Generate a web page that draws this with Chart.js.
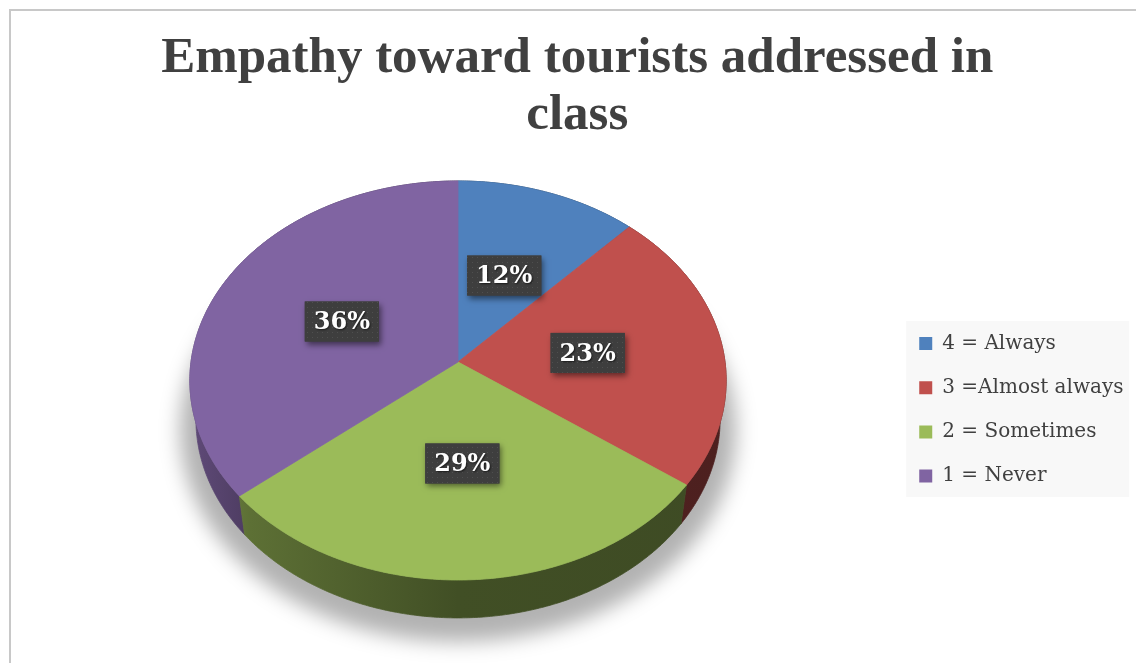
<!DOCTYPE html>
<html>
<head>
<meta charset="utf-8">
<script src="https://cdn.jsdelivr.net/npm/chart.js@4"></script>
<style>
  html, body { margin: 0; padding: 0; background: #ffffff; }
  canvas { display: block; }
</style>
</head>
<body>
<canvas id="chart" width="1136" height="663"></canvas>
<script>
// Survey answers and their shares (%)
const categories = ['4 = Always', '3 =Almost always', '2 = Sometimes', '1 = Never'];
const shares = [12, 23, 29, 36];
const sliceColors = ['#4F81BD', '#C0504D', '#9BBB59', '#8064A2'];
const chartTitle = ['Empathy toward tourists addressed in', 'class'];

// Perspective view of the pie disc: tilt, camera distance and rim thickness (in radii)
const VIEW = { tilt: 47.8 * Math.PI / 180, distance: 7.25, thickness: 0.2246, labelRadius: 0.49 };

function project(arc, theta, r, h) {
  const sa = Math.sin(VIEW.tilt), ca = Math.cos(VIEW.tilt);
  const u = r * Math.cos(theta), v = r * Math.sin(theta);
  const s = v * sa - h * ca;
  const k = arc.outerRadius * VIEW.distance / (VIEW.distance - v * ca - h * sa);
  return [arc.x + u * k, arc.y + s * k];
}

function rimPoints(arc, a0, a1, r, h) {
  const n = Math.max(2, Math.ceil(Math.abs(a1 - a0) / (Math.PI / 360)));
  const pts = [];
  for (let i = 0; i <= n; i++) pts.push(project(arc, a0 + (a1 - a0) * i / n, r, h));
  return pts;
}

function shade(hex, f) {
  const n = parseInt(hex.slice(1), 16);
  const r = Math.round(((n >> 16) & 255) * f);
  const g = Math.round(((n >> 8) & 255) * f);
  const b = Math.round((n & 255) * f);
  return `rgb(${r},${g},${b})`;
}

function makeDotPattern(ctx) {
  const c = document.createElement('canvas');
  c.width = 5; c.height = 5;
  const p = c.getContext('2d');
  p.fillStyle = '#3e3e3e';
  p.fillRect(0, 0, 5, 5);
  p.fillStyle = '#4f4f4f';
  p.fillRect(2, 2, 1, 1);
  return ctx.createPattern(c, 'repeat');
}

// Outer frame of the chart
const framePlugin = {
  id: 'frame',
  beforeDraw(chart) {
    const ctx = chart.ctx;
    ctx.save();
    ctx.strokeStyle = '#c8c8c8';
    ctx.lineWidth = 2;
    ctx.strokeRect(10, 10, chart.width + 40, chart.height + 40);

    // light panel behind the legend entries
    const boxes = chart.legend && chart.legend.legendHitBoxes;
    if (boxes && boxes.length) {
      const first = boxes[0], last = boxes[boxes.length - 1];
      const x0 = first.left - 13, y0 = first.top - 12.5;
      const y1 = last.top + last.height + 11;
      ctx.fillStyle = '#f8f8f8';
      ctx.fillRect(x0, y0, 223, y1 - y0);
    }
    ctx.restore();
  }
};

// Draws the pie slices as a tilted disc with a rim, plus the value labels
const pie3dPlugin = {
  id: 'pie3d',
  beforeDatasetsDraw(chart) {
    const ctx = chart.ctx;
    const meta = chart.getDatasetMeta(0);
    const arcs = meta.data;
    const colors = chart.data.datasets[0].backgroundColor;
    const values = chart.data.datasets[0].data;
    const total = values.reduce((a, b) => a + b, 0);
    const H = VIEW.thickness;
    const ref = arcs[0];

    ctx.save();

    // soft shadow under the disc
    ctx.save();
    ctx.filter = 'blur(10px)';
    ctx.fillStyle = 'rgba(0,0,0,0.30)';
    ctx.beginPath();
    rimPoints(ref, 0, Math.PI * 2, 1.065, -(H + 0.05)).forEach(([x, y], i) => i ? ctx.lineTo(x, y) : ctx.moveTo(x, y));
    ctx.closePath();
    ctx.fill();
    ctx.restore();

    // rim walls, back to front
    const order = arcs.map((a, i) => i).sort((i, j) =>
      Math.sin((arcs[i].startAngle + arcs[i].endAngle) / 2) - Math.sin((arcs[j].startAngle + arcs[j].endAngle) / 2));
    order.forEach(i => {
      const a = arcs[i];
      const top = rimPoints(a, a.startAngle, a.endAngle, 1, 0);
      const bottom = rimPoints(a, a.endAngle, a.startAngle, 1, -H);
      const g = ctx.createLinearGradient(a.x - a.outerRadius, 0, a.x + a.outerRadius, 0);
      g.addColorStop(0, shade(colors[i], 0.74));
      g.addColorStop(0.11, shade(colors[i], 0.60));
      g.addColorStop(0.5, shade(colors[i], 0.42));
      g.addColorStop(1, shade(colors[i], 0.40));
      ctx.beginPath();
      top.concat(bottom).forEach(([x, y], k) => k ? ctx.lineTo(x, y) : ctx.moveTo(x, y));
      ctx.closePath();
      ctx.fillStyle = g;
      ctx.strokeStyle = g;
      ctx.lineWidth = 0.8;
      ctx.fill();
      ctx.stroke();
    });

    // top faces
    arcs.forEach((a, i) => {
      ctx.beginPath();
      ctx.moveTo(a.x, a.y);
      rimPoints(a, a.startAngle, a.endAngle, 1, 0).forEach(([x, y]) => ctx.lineTo(x, y));
      ctx.closePath();
      ctx.fillStyle = colors[i];
      ctx.strokeStyle = colors[i];
      ctx.lineWidth = 0.8;
      ctx.fill();
      ctx.stroke();
    });

    // value labels
    const pattern = makeDotPattern(ctx);
    ctx.font = 'bold 24px "DejaVu Serif"';
    ctx.textAlign = 'center';
    ctx.textBaseline = 'middle';
    arcs.forEach((a, i) => {
      const mid = (a.startAngle + a.endAngle) / 2;
      const [lx, ly] = project(a, mid, VIEW.labelRadius, 0);
      const text = Math.round(values[i] / total * 100) + '%';
      const bw = ctx.measureText(text).width + 18, bh = 40;
      const bx = lx - bw / 2, by = ly - bh / 2;
      ctx.save();
      ctx.shadowColor = 'rgba(0,0,0,0.5)';
      ctx.shadowBlur = 6;
      ctx.shadowOffsetX = 2;
      ctx.shadowOffsetY = 3;
      ctx.fillStyle = '#3e3e3e';
      ctx.fillRect(bx, by, bw, bh);
      ctx.restore();
      ctx.fillStyle = pattern;
      ctx.fillRect(bx, by, bw, bh);
      ctx.save();
      ctx.shadowColor = 'rgba(0,0,0,0.6)';
      ctx.shadowBlur = 2;
      ctx.shadowOffsetX = 1;
      ctx.shadowOffsetY = 1;
      ctx.fillStyle = '#ffffff';
      ctx.fillText(text, lx, ly + 1.5);
      ctx.restore();
    });

    ctx.restore();
    return false;
  }
};

new Chart(document.getElementById('chart'), {
  type: 'pie',
  data: {
    labels: categories,
    datasets: [{
      data: shares,
      backgroundColor: sliceColors,
      borderWidth: 0,
      radius: 267
    }]
  },
  options: {
    responsive: false,
    animation: false,
    events: [],
    layout: { padding: { left: 21, right: 2.5, top: 0, bottom: 92 } },
    plugins: {
      title: {
        display: true,
        text: chartTitle,
        color: '#404040',
        font: { family: '"Liberation Serif"', size: 51, weight: 'bold', lineHeight: '57px' },
        padding: { top: 30, bottom: 9 }
      },
      legend: {
        display: true,
        position: 'right',
        fullSize: false,
        align: 'center',
        title: { display: true, text: '', font: { size: 10 }, padding: { top: 83.6, bottom: 0 } },
        labels: {
          color: '#404040',
          font: { family: '"DejaVu Serif"', size: 20 },
          boxWidth: 13,
          boxHeight: 13,
          padding: 24.2
        }
      },
      tooltip: { enabled: false }
    }
  },
  plugins: [framePlugin, pie3dPlugin]
});
</script>
</body>
</html>
